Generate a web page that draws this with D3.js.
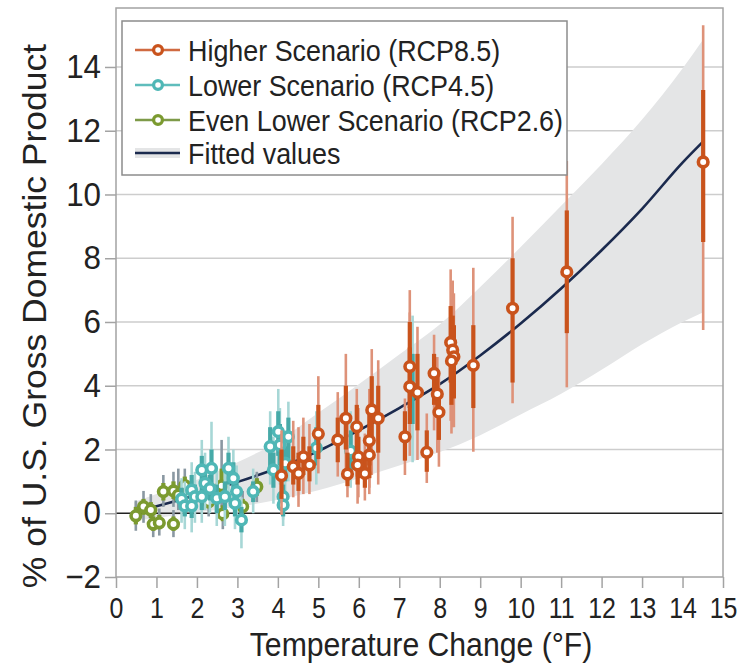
<!DOCTYPE html>
<html><head><meta charset="utf-8">
<script src="https://cdn.jsdelivr.net/npm/d3@7"></script>
<style>body{margin:0;background:#fff;} svg{display:block;font-family:"Liberation Sans",Arial,Helvetica,sans-serif;}</style>
</head><body><svg id="c" width="742" height="667"></svg>
<script>
// ---------- data ----------
const xTickValues = [0,1,2,3,4,5,6,7,8,9,10,11,12,13,14,15];
const yTickValues = [-2,0,2,4,6,8,10,12,14];
const gridValues  = [2,4,6,8,10,12,14];

// fitted curve and its band
const fitX    = [0.45, 1, 2, 3, 4, 5, 6, 7, 8, 9, 10, 11, 12, 13, 14, 14.5];
const fitY    = [0.06, 0.22, 0.58, 0.98, 1.42, 1.95, 2.6, 3.3, 4.05, 4.95, 5.95, 7.05, 8.25, 9.55, 11.0, 11.65];
const bandLow = [-0.25, -0.15, 0.02, 0.2, 0.42, 0.72, 1.1, 1.5, 1.92, 2.45, 3.1, 3.75, 4.5, 5.3, 6.0, 6.3];
const bandHigh= [0.35, 0.6, 1.05, 1.6, 2.25, 3.15, 4.05, 4.98, 5.92, 7.1, 8.35, 9.65, 10.95, 12.35, 13.95, 14.85];

// [temperature, value, outerLow, innerLow, innerHigh, outerHigh]
const rcp26 = [
  [0.49,-0.08,-0.55,-0.35,0.2,0.4],
  [0.68,0.21,-0.3,-0.05,0.45,0.7],
  [0.86,0.10,-0.4,-0.15,0.35,0.6],
  [0.92,-0.34,-0.75,-0.55,-0.1,0.1],
  [1.07,-0.30,-0.7,-0.5,-0.05,0.15],
  [1.17,0.68,0.2,0.4,0.95,1.2],
  [1.42,-0.34,-0.75,-0.55,-0.1,0.1],
  [1.42,0.70,0.2,0.45,1.0,1.3],
  [1.54,0.57,0.1,0.35,0.85,1.4],
  [1.70,0.87,0.35,0.6,1.15,1.4],
  [2.29,0.36,-0.1,0.15,0.6,0.8],
  [2.61,0.86,0.2,0.55,1.4,2.3],
  [2.64,-0.02,-0.5,-0.25,0.25,0.5],
  [3.13,0.21,-0.3,0.0,0.45,0.7],
  [3.48,0.83,0.35,0.55,1.1,1.3]
];
const rcp45 = [
  [1.62,0.45,-0.3,0.1,0.8,1.1],
  [1.70,0.23,-0.5,-0.1,0.6,1.0],
  [1.87,0.23,-0.6,-0.15,0.6,1.1],
  [1.87,0.73,-0.1,0.3,1.2,1.6],
  [1.95,0.52,-0.3,0.1,0.9,1.3],
  [2.12,1.36,0.4,0.9,1.8,2.3],
  [2.20,0.94,0.1,0.5,1.4,1.9],
  [2.12,0.52,-0.3,0.1,0.9,1.3],
  [2.32,0.78,0.0,0.4,1.2,1.6],
  [2.36,1.41,0.3,0.9,2.0,2.87],
  [2.49,0.47,-0.4,0.0,0.9,1.4],
  [2.69,0.52,-0.4,0.1,1.0,1.5],
  [2.78,1.41,0.4,0.9,1.9,2.4],
  [2.90,1.10,0.2,0.6,1.6,2.0],
  [2.98,0.68,-0.1,0.3,1.1,1.5],
  [2.94,0.31,-0.5,-0.1,0.7,1.1],
  [3.10,-0.21,-1.1,-0.6,0.2,0.5],
  [3.39,0.68,0.0,0.35,1.0,1.4],
  [3.81,2.09,0.9,1.4,2.7,3.2],
  [4.01,2.56,1.2,1.8,3.2,3.9],
  [4.26,2.40,1.0,1.6,3.0,3.5],
  [4.05,2.14,0.9,1.5,2.8,3.3],
  [3.89,1.36,0.3,0.8,1.9,2.4],
  [4.18,1.57,0.5,1.0,2.1,2.6],
  [4.13,0.52,-0.2,0.1,0.9,1.3],
  [4.13,0.26,-0.4,-0.1,0.6,1.0],
  [4.95,2.05,0.9,1.5,2.7,3.2],
  [5.80,1.95,0.8,1.3,2.6,3.2],
  [7.33,3.90,1.6,2.8,5.0,6.2]
];
const rcp85 = [
  [4.09,1.18,-0.05,0.45,2.0,2.6],
  [4.38,1.46,0.5,0.9,2.1,2.9],
  [4.51,1.25,0.2,0.7,1.9,2.7],
  [4.63,1.77,0.6,1.2,2.4,3.0],
  [4.78,1.51,0.6,1.0,2.1,2.8],
  [5.00,2.49,1.25,1.7,3.4,4.3],
  [5.48,2.30,1.15,1.6,3.0,3.8],
  [5.68,2.98,1.25,2.0,4.0,5.0],
  [5.72,1.23,0.5,0.85,1.9,2.9],
  [5.95,2.71,1.15,1.8,3.4,3.9],
  [5.99,1.77,0.5,1.1,2.4,3.3],
  [5.97,1.51,0.3,0.9,2.2,3.0],
  [6.15,1.25,0.4,0.8,1.8,2.5],
  [6.26,2.28,0.8,1.5,3.1,3.9],
  [6.26,1.83,0.6,1.1,2.6,3.4],
  [6.32,3.24,1.2,2.2,4.3,5.15],
  [6.48,2.98,0.9,1.9,4.0,4.8],
  [7.14,2.40,1.2,1.65,3.2,3.6],
  [7.26,4.60,2.3,3.3,6.0,7.0],
  [7.26,3.97,1.8,2.8,5.2,6.3],
  [7.45,3.79,1.67,2.6,5.0,5.85],
  [7.68,1.91,0.95,1.3,2.6,3.13],
  [7.86,4.39,2.6,3.4,5.0,5.6],
  [7.94,3.74,1.9,3.0,4.5,4.9],
  [7.98,3.17,1.46,2.3,3.9,4.4],
  [8.27,5.36,2.9,4.1,6.5,7.65],
  [8.32,5.12,2.7,3.8,6.2,7.3],
  [8.35,4.91,2.7,3.6,5.9,6.9],
  [8.29,4.78,2.5,3.4,5.8,6.7],
  [8.83,4.64,1.93,3.3,5.9,7.7],
  [9.80,6.43,3.45,4.1,8.0,9.3],
  [11.14,7.57,3.95,5.65,9.5,11.05],
  [14.51,11.02,5.75,8.51,13.28,15.31]
];
const legendLabels = ["Higher Scenario (RCP8.5)","Lower Scenario (RCP4.5)","Even Lower Scenario (RCP2.6)","Fitted values"];
const xTitle = "Temperature Change (°F)";
const yTitle = "% of U.S. Gross Domestic Product";

// ---------- styles ----------
const SQ = 0.915; // horizontal squeeze of the reference's lettering
const styles = {
  rcp85: {ring:"#c9531c", inner:"#c9531c", outer:"#de9279", legend:"#d06a40"},
  rcp45: {ring:"#4fb7b6", inner:"#46aaa8", outer:"#a7d7d6", legend:"#5fbdbc"},
  rcp26: {ring:"#7b9a2f", inner:"#7b9a2f", outer:"#8a98a2", legend:"#7e9a48"}
};

const svg = d3.select("#c");
const x = d3.scaleLinear().domain([0,15]).range([116,723]);
const y = d3.scaleLinear().domain([-2,15.85]).range([577,8]);

// gridlines
svg.append("g").selectAll("line").data(gridValues).join("line")
  .attr("x1",x(0)).attr("x2",x(15)).attr("y1",d=>y(d)).attr("y2",d=>y(d))
  .attr("stroke","#cdcdcd").attr("stroke-width",1.5);

// band
const bandData = fitX.map((v,i)=>({x:v, lo:bandLow[i], hi:bandHigh[i], f:fitY[i]}));
svg.append("path").datum(bandData)
  .attr("d", d3.area().x(d=>x(d.x)).y0(d=>y(d.lo)).y1(d=>y(d.hi)).curve(d3.curveMonotoneX))
  .attr("fill","#e4e5e6");

// zero line
svg.append("line").attr("x1",x(0)).attr("x2",x(15)).attr("y1",y(0)).attr("y2",y(0))
  .attr("stroke","#222").attr("stroke-width",1.6);

// fitted curve
svg.append("path").datum(bandData)
  .attr("d", d3.line().x(d=>x(d.x)).y(d=>y(d.f)).curve(d3.curveMonotoneX))
  .attr("fill","none").attr("stroke","#1b2a4e").attr("stroke-width",2.6);

// frame
svg.append("rect").attr("x",x(0)).attr("y",y(15.85)).attr("width",x(15)-x(0)).attr("height",y(-2)-y(15.85))
  .attr("fill","none").attr("stroke","#a3a3a3").attr("stroke-width",1.5);

// axes
const gx = svg.append("g").attr("transform",`translate(0,${y(-2)})`)
  .call(d3.axisBottom(x).tickValues(xTickValues).tickSize(11).tickPadding(9).tickFormat(d3.format("d")));
gx.select(".domain").remove();
gx.attr("font-family",null).attr("font-size",null);
gx.selectAll(".tick line").attr("stroke","#a3a3a3").attr("stroke-width",1.5);
gx.selectAll(".tick text").style("font-size","29px").attr("fill","#222")
  .attr("transform","scale(0.86,1)");

const gy = svg.append("g").attr("transform",`translate(${x(0)},0)`)
  .call(d3.axisLeft(y).tickValues(yTickValues).tickSize(11).tickPadding(4)
    .tickFormat(d=> d<0 ? "\u2212"+Math.abs(d) : String(d)));
gy.select(".domain").remove();
gy.attr("font-family",null).attr("font-size",null);
gy.selectAll(".tick line").attr("stroke","#a3a3a3").attr("stroke-width",1.5);
gy.selectAll(".tick text").style("font-size","33px").attr("fill","#222")
  .attr("transform",`translate(-15,0) scale(0.95,1) translate(15,0)`);

// axis titles
svg.append("text").attr("transform",`translate(${421},656) scale(${SQ},1)`)
  .attr("text-anchor","middle").attr("font-size",33).attr("fill","#222").text(xTitle);
svg.append("text").attr("transform",`translate(46,316) rotate(-90) scale(1,${SQ})`)
  .attr("text-anchor","middle").attr("font-size",35.5).attr("fill","#222").text(yTitle);

// points
function drawSeries(data, st){
  const g = svg.append("g");
  g.selectAll("line.o").data(data).join("line").attr("class","o")
    .attr("x1",d=>x(d[0])).attr("x2",d=>x(d[0])).attr("y1",d=>y(d[2])).attr("y2",d=>y(d[5]))
    .attr("stroke",st.outer).attr("stroke-width",2.6);
  g.selectAll("line.i").data(data).join("line").attr("class","i")
    .attr("x1",d=>x(d[0])).attr("x2",d=>x(d[0])).attr("y1",d=>y(d[3])).attr("y2",d=>y(d[4]))
    .attr("stroke",st.inner).attr("stroke-width",4.2);
  g.selectAll("circle").data(data).join("circle")
    .attr("cx",d=>x(d[0])).attr("cy",d=>y(d[1])).attr("r",4.8)
    .attr("fill","#fff").attr("stroke",st.ring).attr("stroke-width",3.6);
}
drawSeries(rcp26, styles.rcp26);
drawSeries(rcp45, styles.rcp45);
drawSeries(rcp85, styles.rcp85);

// legend
const lg = svg.append("g");
lg.append("rect").attr("x",122).attr("y",21).attr("width",445).attr("height",154)
  .attr("fill","#fff").attr("stroke","#8c8c8c").attr("stroke-width",1.5);
const rowY = [50,85,120,153];
const legSt = [styles.rcp85, styles.rcp45, styles.rcp26];
legSt.forEach((st,i)=>{
  lg.append("line").attr("x1",135).attr("x2",180).attr("y1",rowY[i]).attr("y2",rowY[i])
    .attr("stroke",st.legend).attr("stroke-width",2.6);
  lg.append("circle").attr("cx",158).attr("cy",rowY[i]).attr("r",4.4)
    .attr("fill","#fff").attr("stroke",st.ring).attr("stroke-width",3.3);
});
lg.append("rect").attr("x",135).attr("y",rowY[3]-5).attr("width",45).attr("height",10).attr("fill","#e4e5e6");
lg.append("line").attr("x1",135).attr("x2",180).attr("y1",rowY[3]).attr("y2",rowY[3])
  .attr("stroke","#1b2a4e").attr("stroke-width",2.6);
legendLabels.forEach((t,i)=>{
  lg.append("text").attr("transform",`translate(188,${rowY[i]+10.5}) scale(${SQ},1)`)
    .attr("font-size",29.4).attr("fill","#222").text(t);
});
</script></body></html>
